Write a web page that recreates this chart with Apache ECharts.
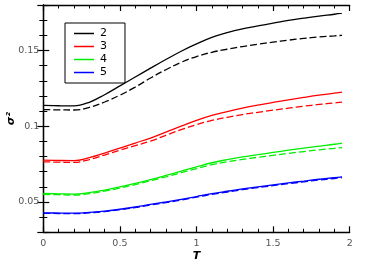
<!DOCTYPE html>
<html><head><meta charset="utf-8">
<script src="https://cdn.jsdelivr.net/npm/echarts@6/dist/echarts.min.js"></script>
<style>html,body{margin:0;padding:0;background:#fff}#c{width:374px;height:270px}</style>
</head><body><div id="c"></div>
<script>
const T = [0, 0.1, 0.2, 0.3, 0.4, 0.5, 0.6, 0.7, 0.8, 0.9, 1.0, 1.1, 1.2, 1.3, 1.4, 1.5, 1.6, 1.7, 1.8, 1.9, 1.95];
const s2_solid = [0.1137,0.1135,0.1134,0.1158,0.1208,0.1266,0.1325,0.1383,0.1440,0.1495,0.1543,0.1586,0.1618,0.1643,0.1662,0.1680,0.1698,0.1713,0.1727,0.1739,0.1746];
const s2_dash  = [0.1110,0.1108,0.1107,0.1124,0.1160,0.1205,0.1258,0.1318,0.1373,0.1422,0.1460,0.1488,0.1508,0.1526,0.1541,0.1555,0.1568,0.1580,0.1589,0.1596,0.1600];
const s3_solid = [0.0776,0.0774,0.0773,0.0793,0.0823,0.0856,0.0889,0.0922,0.0961,0.1000,0.1038,0.1071,0.1096,0.1119,0.1139,0.1157,0.1174,0.1190,0.1205,0.1218,0.1225];
const s3_dash  = [0.0765,0.0763,0.0761,0.0780,0.0810,0.0842,0.0872,0.0902,0.0940,0.0977,0.1010,0.1038,0.1059,0.1077,0.1092,0.1106,0.1119,0.1132,0.1144,0.1154,0.1159];
const s4_solid = [0.0556,0.0554,0.0552,0.0562,0.0579,0.0600,0.0623,0.0648,0.0675,0.0703,0.0732,0.0759,0.0780,0.0798,0.0812,0.0827,0.0842,0.0856,0.0869,0.0881,0.0889];
const s4_dash  = [0.0550,0.0548,0.0546,0.0555,0.0572,0.0592,0.0615,0.0640,0.0666,0.0693,0.0721,0.0746,0.0765,0.0781,0.0795,0.0808,0.0821,0.0833,0.0844,0.0854,0.0859];
const s5_solid = [0.0428,0.0427,0.0426,0.0431,0.0440,0.0452,0.0467,0.0484,0.0500,0.0517,0.0536,0.0555,0.0571,0.0586,0.0600,0.0613,0.0626,0.0638,0.0650,0.0660,0.0666];
const s5_dash  = [0.0425,0.0424,0.0423,0.0428,0.0437,0.0449,0.0463,0.0480,0.0496,0.0513,0.0532,0.0550,0.0566,0.0581,0.0595,0.0608,0.0621,0.0633,0.0645,0.0655,0.0661];
const names = ['2','3','4','5'];
const colors = ['#000000','#ff0000','#00ee00','#0000ff'];
const solids = [s2_solid, s3_solid, s4_solid, s5_solid];
const dashes = [s2_dash, s3_dash, s4_dash, s5_dash];

const pair = arr => T.map((t,i)=>[t, arr[i]]);
const series = [];
names.forEach((n,i)=>{
  series.push({name:n, type:'line', data:pair(solids[i]), showSymbol:false, smooth:0.4, color:colors[i],
    lineStyle:{color:colors[i], width:1.3}, animation:false});
  series.push({name:n+'d', type:'line', data:pair(dashes[i]), showSymbol:false, smooth:0.4, color:colors[i],
    lineStyle:{color:colors[i], width:1.3, type:[7,3]}, animation:false});
});

const labelFont = {fontFamily:'DejaVu Sans', fontSize:9.5, color:'#555'};
const axLine = {show:true, lineStyle:{color:'#000', width:1.3}};
const chart = echarts.init(document.getElementById('c'));
chart.setOption({
  animation:false,
  grid:{left:43.3, right:24.3, top:5, bottom:37.7, containLabel:false, outerBoundsMode:'none'},
  legend:{
    data:names, orient:'vertical', left:65, top:23, width:52,
    borderColor:'#000', borderWidth:1, padding:[4,18,4,9],
    icon:'rect', itemWidth:20, itemHeight:1.5, itemGap:0,
    textStyle:{fontFamily:'DejaVu Sans', fontSize:11, color:'#000', lineHeight:13, padding:[0,0,0,1]},
    selectedMode:false
  },
  xAxis:[
    {type:'value', min:0, max:2, interval:0.5, position:'bottom',
     name:'T', nameLocation:'middle', nameGap:18, nameMoveOverlap:false,
     nameTextStyle:{fontFamily:'DejaVu Sans', fontSize:11, fontWeight:'bold', fontStyle:'italic', color:'#000'},
     axisLine:axLine, axisTick:{show:true, inside:true, length:6, lineStyle:{color:'#000', width:1.2}},
     minorTick:{show:true, splitNumber:5, length:3.5, lineStyle:{color:'#000', width:1}},
     splitLine:{show:false}, minorSplitLine:{show:false},
     axisLabel:Object.assign({margin:6, formatter:v=>String(v)}, labelFont)},
    {type:'value', min:0, max:2, interval:0.5, position:'top',
     axisLine:axLine, axisTick:{show:true, inside:true, length:6, lineStyle:{color:'#000', width:1.2}},
     minorTick:{show:true, splitNumber:5, length:3.5, lineStyle:{color:'#000', width:1}},
     splitLine:{show:false}, axisLabel:{show:false}}
  ],
  yAxis:[
    {type:'value', min:0.03, max:0.18, splitNumber:3, position:'left',
     name:'σ²', nameLocation:'middle', nameGap:27, nameMoveOverlap:false,
     nameTextStyle:{fontFamily:'DejaVu Sans', fontSize:11, fontWeight:'bold', fontStyle:'italic', color:'#000'},
     axisLine:axLine, axisTick:{show:true, inside:true, length:6, lineStyle:{color:'#000', width:1.2}},
     minorTick:{show:true, splitNumber:5, length:4, lineStyle:{color:'#000', width:1}},
     splitLine:{show:false}, minorSplitLine:{show:false},
     axisLabel:Object.assign({margin:4, showMinLabel:false, showMaxLabel:false, formatter:v=>String(+v.toFixed(2))}, labelFont)},
    {type:'value', min:0.03, max:0.18, splitNumber:3, position:'right',
     axisLine:axLine, axisTick:{show:true, inside:true, length:6, lineStyle:{color:'#000', width:1.2}},
     minorTick:{show:true, splitNumber:5, length:4, lineStyle:{color:'#000', width:1}},
     splitLine:{show:false}, axisLabel:{show:false}}
  ],
  series: series
});
</script></body></html>
